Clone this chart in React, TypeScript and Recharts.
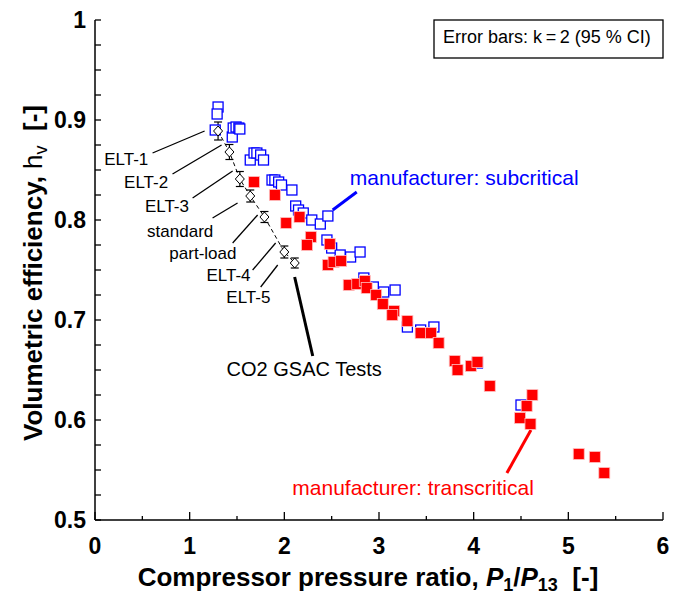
import React from 'react';
import { ScatterChart, Scatter, XAxis, YAxis, ErrorBar, ReferenceLine, ReferenceDot } from 'recharts';

const FONT = '"Liberation Sans", Arial, sans-serif';

// manufacturer data, subcritical (blue open squares)
const subX = [1.30, 1.29, 1.27, 1.45, 1.46, 1.49, 1.52, 1.53, 1.64, 1.68, 1.71, 1.75, 1.78, 1.87, 1.90, 1.94, 1.97, 2.08, 2.12, 2.15, 2.20, 2.29, 2.38, 2.46, 2.45, 2.50, 2.59, 2.70, 2.80, 2.84, 2.94, 3.05, 3.17, 3.30, 3.44, 3.58, 4.04, 4.50];
const subY = [0.913, 0.906, 0.890, 0.883, 0.892, 0.893, 0.892, 0.891, 0.860, 0.867, 0.867, 0.865, 0.860, 0.840, 0.840, 0.838, 0.835, 0.830, 0.814, 0.810, 0.807, 0.800, 0.796, 0.804, 0.780, 0.772, 0.765, 0.763, 0.768, 0.742, 0.733, 0.728, 0.730, 0.693, 0.690, 0.693, 0.657, 0.615];

// manufacturer data, transcritical (red filled squares)
const transX = [1.68, 1.90, 2.02, 2.16, 2.28, 2.24, 2.48, 2.46, 2.52, 2.60, 2.68, 2.77, 2.85, 2.87, 2.97, 3.04, 3.16, 3.14, 3.30, 3.44, 3.55, 3.63, 3.80, 3.83, 3.97, 4.04, 4.17, 4.62, 4.56, 4.49, 4.60, 5.11, 5.28, 5.38];
const transY = [0.838, 0.825, 0.797, 0.803, 0.783, 0.775, 0.776, 0.755, 0.758, 0.759, 0.735, 0.736, 0.739, 0.732, 0.725, 0.716, 0.709, 0.705, 0.699, 0.687, 0.687, 0.677, 0.659, 0.650, 0.654, 0.658, 0.634, 0.625, 0.614, 0.602, 0.596, 0.566, 0.563, 0.547];

// CO2 GSAC tests (diamonds with error bars)
const gsacNames = ['ELT-1', 'ELT-2', 'ELT-3', 'standard', 'part-load', 'ELT-4', 'ELT-5'];
const gsacX = [1.30, 1.42, 1.53, 1.64, 1.79, 2.00, 2.11];
const gsacY = [0.889, 0.868, 0.841, 0.824, 0.803, 0.768, 0.757];
const gsacErr = [0.009, 0.0075, 0.0075, 0.006, 0.0055, 0.006, 0.005];

const xTicks = [0, 0.5, 1, 1.5, 2, 2.5, 3, 3.5, 4, 4.5, 5, 5.5, 6];
const yTicks = [0.5, 0.525, 0.55, 0.575, 0.6, 0.625, 0.65, 0.675, 0.7, 0.725, 0.75, 0.775, 0.8, 0.825, 0.85, 0.875, 0.9, 0.925, 0.95, 0.975, 1];

const subData = subX.map((x, i) => ({ x, y: subY[i] }));
const transData = transX.map((x, i) => ({ x, y: transY[i] }));
const gsacData = gsacX.map((x, i) => ({ x, y: gsacY[i], err: gsacErr[i], name: gsacNames[i] }));

// text annotations (data coords)
const labels = [
    { text: 'ELT-1', x: 0.33, y: 0.861, size: 17, color: '#000' },
    { text: 'ELT-2', x: 0.54, y: 0.838, size: 17, color: '#000' },
    { text: 'ELT-3', x: 0.76, y: 0.814, size: 17, color: '#000' },
    { text: 'standard', x: 0.90, y: 0.789, size: 17, color: '#000' },
    { text: 'part-load', x: 1.14, y: 0.767, size: 17, color: '#000' },
    { text: 'ELT-4', x: 1.41, y: 0.745, size: 17, color: '#000' },
    { text: 'ELT-5', x: 1.62, y: 0.723, size: 17, color: '#000' },
    { text: 'CO2 GSAC Tests', x: 2.21, y: 0.651, size: 20, color: '#000' },
    { text: 'manufacturer: subcritical', x: 3.90, y: 0.843, size: 21, color: '#0000ff' },
    { text: 'manufacturer: transcritical', x: 3.36, y: 0.533, size: 21, color: '#ff0000' },
];

// leader lines
const leaders = [
    { a: [0.608, 0.867], b: [1.158, 0.889], color: '#000', w: 1.3 },
    { a: [0.819, 0.846], b: [1.337, 0.875], color: '#000', w: 1.3 },
    { a: [1.031, 0.822], b: [1.454, 0.849], color: '#000', w: 1.3 },
    { a: [1.242, 0.802], b: [1.506, 0.817], color: '#000', w: 1.3 },
    { a: [1.454, 0.777], b: [1.718, 0.805], color: '#000', w: 1.3 },
    { a: [1.665, 0.750], b: [1.908, 0.777], color: '#000', w: 1.3 },
    { a: [1.750, 0.733], b: [1.930, 0.755], color: '#000', w: 1.3 },
    { a: [2.109, 0.743], b: [2.300, 0.664], color: '#000', w: 3 },
    { a: [2.511, 0.810], b: [2.765, 0.828], color: '#0000ff', w: 3 },
    { a: [4.351, 0.547], b: [4.605, 0.590], color: '#ff0000', w: 3 },
];

const isMajorX = (v: number) => Math.abs(v - Math.round(v)) < 1e-6;
const isMajorY = (v: number) => Math.abs(v * 10 - Math.round(v * 10)) < 1e-6;

const BottomTick = ({ x, y, payload }: any) => {
    const v = payload.value;
    const major = isMajorX(v);
    return (
        <g>
            <line x1={x} x2={x} y1={y} y2={y - (major ? 8 : 4)} stroke="#000" strokeWidth={1.3} />
            {major && (
                <text x={x} y={y + 34} textAnchor="middle" fontSize={23} fontWeight="bold" fontFamily={FONT} fill="#000">{v}</text>
            )}
        </g>
    );
};

const TopTick = ({ x, y, payload }: any) => {
    const major = isMajorX(payload.value);
    return <line x1={x} x2={x} y1={y} y2={y + (major ? 8 : 4)} stroke="#000" strokeWidth={1.3} />;
};

const LeftTick = ({ x, y, payload }: any) => {
    const v = payload.value;
    const major = isMajorY(v);
    return (
        <g>
            <line x1={x} x2={x + 6} y1={y} y2={y} stroke="#000" strokeWidth={1.3} />
            {major && (
                <text x={x - 9} y={y + 8} textAnchor="end" fontSize={23} fontWeight="bold" fontFamily={FONT} fill="#000">{String(Math.round(v * 10) / 10)}</text>
            )}
        </g>
    );
};

const RightTick = ({ x, y }: any) => <line x1={x} x2={x - 6} y1={y} y2={y} stroke="#000" strokeWidth={1.3} />;

const BlueSquare = ({ cx, cy }: any) => (
    <rect x={cx - 5} y={cy - 5} width={10} height={10} fill="#fff" stroke="#0000ff" strokeWidth={1.3} />
);

const RedSquare = ({ cx, cy }: any) => (
    <rect x={cx - 5.5} y={cy - 5.5} width={11} height={11} fill="#ff0000" stroke="#ffc0c0" strokeWidth={0.8} />
);

const Diamond = ({ cx, cy }: any) => (
    <path d={`M${cx},${cy - 5} L${cx + 4.5},${cy} L${cx},${cy + 5} L${cx - 4.5},${cy} Z`} fill="#fff" stroke="#000" strokeWidth={1} />
);

const Nothing = () => <g />;

const axisLine = { stroke: '#000', strokeWidth: 1.5 };

export default function App() {
    return (
        <div style={{ position: 'relative', width: 670, height: 592, background: '#fff' }}>
            <ScatterChart width={670} height={584} margin={{ top: 12, right: 15, bottom: 32, left: 27 }}>
                <XAxis xAxisId="b" type="number" dataKey="x" domain={[0, 6]} allowDataOverflow ticks={xTicks} interval={0}
                    height={40} tickSize={0} tickMargin={0} tickLine={false} axisLine={axisLine} tick={<BottomTick />} />
                <XAxis xAxisId="t" orientation="top" type="number" dataKey="x" domain={[0, 6]} allowDataOverflow ticks={xTicks} interval={0}
                    height={0} tickSize={0} tickMargin={0} tickLine={false} axisLine={axisLine} tick={<TopTick />} />
                <YAxis yAxisId="l" type="number" dataKey="y" domain={[0.5, 1]} allowDataOverflow ticks={yTicks} interval={0}
                    width={60} tickSize={0} tickMargin={0} tickLine={false} axisLine={axisLine} tick={<LeftTick />} />
                <YAxis yAxisId="r" orientation="right" type="number" dataKey="y" domain={[0.5, 1]} allowDataOverflow ticks={yTicks} interval={0}
                    width={0} tickSize={0} tickMargin={0} tickLine={false} axisLine={axisLine} tick={<RightTick />} />

                <Scatter xAxisId="t" yAxisId="r" data={transData} shape={<Nothing />} isAnimationActive={false} />

                {leaders.map((l, i) => (
                    <ReferenceLine key={`ld-${i}`} xAxisId="b" yAxisId="l" ifOverflow="visible"
                        segment={[{ x: l.a[0], y: l.a[1] }, { x: l.b[0], y: l.b[1] }]}
                        stroke={l.color} strokeWidth={l.w} />
                ))}

                <Scatter xAxisId="b" yAxisId="l" data={subData} shape={<BlueSquare />} isAnimationActive={false} />
                <Scatter xAxisId="b" yAxisId="l" data={transData} shape={<RedSquare />} isAnimationActive={false} />
                <Scatter xAxisId="b" yAxisId="l" data={gsacData} shape={<Diamond />} isAnimationActive={false}
                    line={{ stroke: '#000', strokeWidth: 1, strokeDasharray: '4 3' }}>
                    <ErrorBar dataKey="err" direction="y" width={4} stroke="#000" strokeWidth={1.2} />
                </Scatter>

                {labels.map((lb, i) => (
                    <ReferenceDot key={`lb-${i}`} xAxisId="b" yAxisId="l" x={lb.x} y={lb.y} r={0} ifOverflow="visible"
                        shape={(p: any) => (
                            <text x={p.cx} y={p.cy + lb.size * 0.36} textAnchor="middle" fontSize={lb.size}
                                fontFamily={FONT} fill={lb.color}>{lb.text}</text>
                        )} />
                ))}
            </ScatterChart>

            <svg width={670} height={592} style={{ position: 'absolute', left: 0, top: 0, pointerEvents: 'none', overflow: 'visible' }}>
                <rect x={426} y={12} width={229} height={38} fill="#fff" stroke="#000" strokeWidth={1.3} />
                <text x={435} y={34.5} fontSize={18} fontFamily={FONT} fill="#000">Error bars: k{'\u2009'}={'\u2009'}2 (95 % CI)</text>

                <text x={360} y={578} textAnchor="middle" fontSize={26} fontWeight="bold" fontFamily={FONT} fill="#000" style={{ whiteSpace: 'pre' }}>
                    Compressor pressure ratio, <tspan fontStyle="italic">P</tspan><tspan fontSize={18} dy={5}>1</tspan><tspan dy={-5}>/</tspan><tspan fontStyle="italic">P</tspan><tspan fontSize={18} dy={5}>13</tspan><tspan dy={-5}>{'  [-]'}</tspan>
                </text>

                <text x={0} y={0} transform="translate(34,265) rotate(-90)" textAnchor="middle" fontSize={26} fontWeight="bold" fontFamily={FONT} fill="#000" style={{ whiteSpace: 'pre' }}>
                    Volumetric efficiency, <tspan fontWeight="normal">h</tspan><tspan fontWeight="normal" fontSize={18} dy={5}>v</tspan><tspan dy={-5}>{'  [-]'}</tspan>
                </text>
            </svg>
        </div>
    );
}
